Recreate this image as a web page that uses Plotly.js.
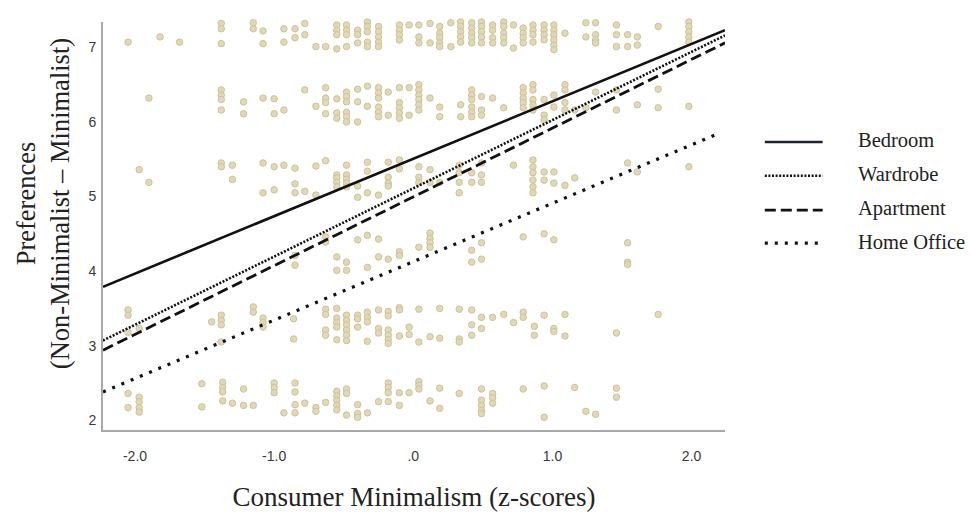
<!DOCTYPE html>
<html>
<head>
<meta charset="utf-8">
<script src="https://cdn.plot.ly/plotly-3.0.1.min.js"></script>
<style>
html,body{margin:0;padding:0;background:#fff;}
#chart{width:971px;height:513px;}
</style>
</head>
<body>
<div id="chart"></div>
<script>
// ---- Data (z-score, then preference values observed in that column) ----
const pref7 = [
  [-2.05,7.07],[-1.82,7.14],[-1.68,7.07],
  [-1.38,7.32,7.25,7.05],[-1.15,7.40,7.33,7.25],[-1.08,7.22,7.05],
  [-0.93,7.41,7.25,7.07],[-0.85,7.25,7.13],[-0.78,7.32,7.17],
  [-0.70,7.01],[-0.63,7.01],[-0.55,7.44,7.37,7.30,7.23,7.17,6.98],
  [-0.48,7.37,7.30,7.23,7.17,7.01],[-0.40,7.23,7.17,7.06],
  [-0.33,7.41,7.34,7.28,7.21,7.07,7.01],[-0.25,7.28,7.21,7.14,7.07,7.01],
  [-0.18,7.40],[-0.10,7.44,7.37,7.30,7.23,7.17,7.10],[-0.03,7.30],
  [0.04,7.44,7.37,7.30,7.14,7.06],[0.12,7.45,7.32,7.06],
  [0.19,7.44,7.28,7.19,7.13,7.06,7.01],[0.27,7.33,7.01],
  [0.34,7.48,7.41,7.34,7.28,7.21,7.14,7.07],[0.42,7.40,7.33,7.26,7.19,7.13,7.06],
  [0.49,7.48,7.41,7.34,7.28,7.21,7.14,7.06],[0.57,7.50,7.44,7.37,7.30,7.23,7.13,7.06],
  [0.65,7.41,7.34,7.28,7.19,7.13,7.06],[0.72,7.46,7.30,6.99],
  [0.79,7.26,7.19,7.13,7.06],[0.86,7.44,7.37,7.30,7.23,7.17,7.07],
  [0.94,7.50,7.44,7.37,7.30,7.23,7.17,7.10],
  [1.01,7.50,7.44,7.37,7.30,7.23,7.17,7.10,7.03,6.97],
  [1.09,7.19],[1.24,7.45,7.33,7.14],[1.31,7.41,7.33,7.17,7.10,7.06],
  [1.46,7.37,7.30,7.17,7.01],[1.54,7.40,7.17,7.01],[1.61,7.42,7.14,7.03],
  [1.76,7.28],[1.98,7.48,7.41,7.34,7.28,7.21,7.14,7.07]
];
const pref6 = [
  [-1.90,6.32],[-1.38,6.43,6.36,6.30,6.16],[-1.22,6.27,6.11],[-1.08,6.32],
  [-1.00,6.31,6.11],[-0.93,6.16],[-0.78,6.43],[-0.70,6.21],
  [-0.63,6.46,6.32,6.26,6.11],[-0.55,6.31,6.12,6.05],
  [-0.48,6.40,6.34,6.27,6.13,6.07,6.00],[-0.40,6.44,6.27,6.00],[-0.33,6.48,6.21],
  [-0.25,6.46,6.39,6.32,6.20,6.13,6.07],[-0.18,6.40,6.09],
  [-0.10,6.46,6.26,6.19,6.12,6.05],[-0.03,6.46,6.09],
  [0.04,6.50,6.43,6.36,6.30,6.23,6.16],[0.12,6.32],[0.19,6.20,6.07],
  [0.34,6.23,6.07],[0.42,6.43,6.36,6.30,6.20,6.13,6.07],[0.49,6.34,6.16,6.09],
  [0.57,6.32],[0.65,6.19],[0.79,6.46,6.39,6.32,6.26,6.19],
  [0.86,6.50,6.43,6.30,6.23,6.16],[0.94,6.30,6.09,6.03],[1.01,6.36,6.20],
  [1.09,6.50,6.43,6.26,6.16],[1.16,6.16],[1.24,6.19],[1.31,6.40],
  [1.46,6.43,6.16],[1.61,6.23],[1.76,6.44,6.19],[1.98,6.21]
];
const pref5 = [
  [-1.97,5.36],[-1.90,5.19],[-1.38,5.45,5.40],[-1.30,5.42,5.23],
  [-1.08,5.45,5.05],[-1.00,5.40,5.09],[-0.93,5.42],[-0.85,5.38,5.17,5.05],
  [-0.78,5.07],[-0.70,5.41,5.02],[-0.63,5.48],[-0.55,5.29,5.25,5.19,5.13],
  [-0.48,5.42,5.29,5.23,5.18,5.13],[-0.40,5.14,4.99],[-0.33,5.46,5.34,5.05],
  [-0.25,5.02],[-0.18,5.46,5.26,5.18,5.14],[-0.10,5.49,5.37],
  [0.04,5.40,5.26,5.19],[0.12,5.36,5.19],[0.19,5.19],
  [0.33,5.42,5.32,5.19,5.05],[0.42,5.32,5.19],[0.49,5.45,5.29,5.19],
  [0.72,5.42],[0.86,5.49,5.40,5.32,5.22,5.13,5.05],[0.94,5.33,5.22],
  [1.01,5.33,5.18],[1.09,5.15],[1.16,5.25],[1.54,5.45],[1.61,5.33],[1.98,5.40]
];
const pref4 = [
  [-0.85,4.21,4.08],[-0.63,4.46,4.39],[-0.55,4.19,4.01],[-0.48,4.12,4.01],
  [-0.40,4.42],[-0.33,4.48,4.05],[-0.25,4.43,4.19],[-0.18,4.16],
  [-0.10,4.26,4.21],[0.04,4.32],[0.12,4.51,4.44,4.38,4.32],
  [0.42,4.28,4.12],[0.49,4.38,4.16],[0.79,4.46],[0.94,4.50],[1.01,4.42],
  [1.54,4.38,4.12,4.09]
];
const pref3 = [
  [-2.05,3.48,3.41,3.18],[-1.97,3.23],[-1.45,3.32],[-1.38,3.41,3.34,3.28,3.05],
  [-1.15,3.52,3.45],[-1.08,3.37,3.31,3.25],[-0.86,3.36,3.09],
  [-0.63,3.49,3.42,3.21,3.14],[-0.55,3.50,3.37,3.31,3.25,3.08],
  [-0.48,3.41,3.34,3.28,3.21,3.14,3.07],[-0.40,3.41,3.36,3.25],
  [-0.33,3.45,3.38,3.32,3.06],[-0.25,3.48,3.23,3.17],
  [-0.18,3.46,3.40,3.21,3.14,3.08,3.03],[-0.10,3.51,3.48,3.13],
  [-0.03,3.25,3.15],[0.04,3.49,3.05],[0.12,3.12],[0.19,3.50,3.10],
  [0.33,3.49,3.09,3.05],[0.42,3.48,3.28,3.14],[0.49,3.38,3.23],[0.57,3.38],
  [0.65,3.42],[0.72,3.31],[0.79,3.45,3.38],[0.87,3.26,3.14],[0.94,3.41],
  [1.01,3.23,3.19],[1.09,3.42,3.13],[1.46,3.17],[1.76,3.42]
];
const pref2 = [
  [-2.05,2.36,2.17],[-1.97,2.31,2.25,2.17,2.11],[-1.52,2.49,2.18],
  [-1.37,2.51,2.44,2.38,2.26],[-1.30,2.23],[-1.22,2.42,2.20],[-1.15,2.20],
  [-1.00,2.50,2.44,2.37],[-0.93,2.10],[-0.85,2.50,2.38,2.21,2.10],[-0.78,2.23],
  [-0.70,2.17,2.12],[-0.63,2.24],[-0.55,2.39,2.33,2.27,2.20,2.14],
  [-0.48,2.42,2.36,2.07],[-0.40,2.21,2.09,2.04],[-0.33,2.10],[-0.25,2.25],
  [-0.18,2.50,2.44,2.37,2.25],[-0.10,2.37,2.20],[-0.03,2.37],
  [0.04,2.52,2.47,2.42],[0.12,2.26],[0.19,2.43,2.16],[0.33,2.36],
  [0.49,2.42,2.27,2.20,2.13,2.09],[0.57,2.36,2.30,2.23],[0.79,2.42],
  [0.94,2.46,2.04],[1.16,2.44],[1.24,2.12],[1.31,2.08],[1.46,2.43,2.31]
];

// Regression line end points (z-score, predicted preference)
const lineNames = ['Bedroom','Wardrobe','Apartment','Home Office'];
const lineX = [[-2.23, 2.24],[-2.23, 2.24],[-2.23, 2.24],[-2.23, 2.20]];
const lineY = [[3.79, 7.23],[3.07, 7.16],[2.94, 7.06],[2.38, 5.85]];

const xTickVals = [-2, -1, 0, 1, 2];
const xTickText = ['-2.0', '-1.0', '.0', '1.0', '2.0'];
const yTickVals = [2, 3, 4, 5, 6, 7];

// ---- Build scatter from column lists ----
const px = [], py = [];
[pref7, pref6, pref5, pref4, pref3, pref2].forEach(band => {
  band.forEach(col => {
    for (let i = 1; i < col.length; i++) { px.push(col[0]); py.push(col[i]); }
  });
});

const lineStyles = [
  {color:'#111111', width:2.6, dash:'solid'},
  {color:'#111111', width:2.6, dash:'2px,1.6px'},
  {color:'#111111', width:2.8, dash:'11px,5px'},
  {color:'#111111', width:3.2, dash:'3px,7px'}
];

const traces = [{
  x: px, y: py, type: 'scatter', mode: 'markers', showlegend: false, cliponaxis: false,
  marker: {size: 6.5, color: 'rgb(224,216,182)', line: {color: 'rgb(206,195,152)', width: 1}},
  hoverinfo: 'skip'
}];
lineNames.forEach((n, i) => {
  traces.push({
    x: lineX[i], y: lineY[i], type: 'scatter', mode: 'lines', name: n, showlegend: false,
    line: lineStyles[i]
  });
});

const serif = 'Liberation Serif, Times New Roman, serif';
// custom legend (shapes + annotations in paper space)
const legRowsY = [0.706, 0.623, 0.539, 0.458];
const legColors = ['#1c2535', '#111111', '#111111', '#111111'];
const shapes = [], annotations = [];
lineNames.forEach((n, i) => {
  shapes.push({type:'line', xref:'paper', yref:'paper', x0:1.064, x1:1.157, y0:legRowsY[i], y1:legRowsY[i],
    line:{color:legColors[i], width: lineStyles[i].width, dash: lineStyles[i].dash}});
  annotations.push({xref:'paper', yref:'paper', x:1.21, y:legRowsY[i]+0.004, xanchor:'left', yanchor:'middle',
    text:n, showarrow:false, font:{family:serif, size:20.5, color:'#222'}});
});
// y-axis title (two lines, rotated)
annotations.push({xref:'paper', yref:'paper', x:-0.0965, y:0.556, xanchor:'center', yanchor:'middle',
  textangle:-90, showarrow:false,
  text:'Preferences<br>(Non-Minimalist – Minimalist)',
  font:{family:serif, size:26.5, color:'#222'}});

const layout = {
  width: 971, height: 513,
  margin: {l: 103, r: 246, t: 22, b: 83},
  paper_bgcolor: '#fff', plot_bgcolor: '#fff',
  showlegend: false,
  xaxis: {
    range: [-2.23, 2.24], tickvals: xTickVals, ticktext: xTickText,
    showgrid: false, zeroline: false, showline: true, linecolor: '#a8a8a8', linewidth: 2,
    ticks: '', ticklen: 0, ticklabelstandoff: 12,
    tickfont: {family: 'Liberation Sans, Arial, sans-serif', size: 14, color: '#3a3a3a'},
    title: {text: 'Consumer Minimalism (z-scores)', standoff: 24,
      font: {family: serif, size: 27, color: '#222'}}
  },
  yaxis: {
    range: [1.87, 7.34], tickvals: yTickVals,
    showgrid: false, zeroline: false, showline: true, linecolor: '#a8a8a8', linewidth: 2,
    ticks: '', ticklen: 0, ticklabelstandoff: 2,
    tickfont: {family: 'Liberation Sans, Arial, sans-serif', size: 14, color: '#3a3a3a'}
  },
  shapes: shapes,
  annotations: annotations
};

Plotly.newPlot('chart', traces, layout, {displayModeBar: false, staticPlot: true});
</script>
</body>
</html>
